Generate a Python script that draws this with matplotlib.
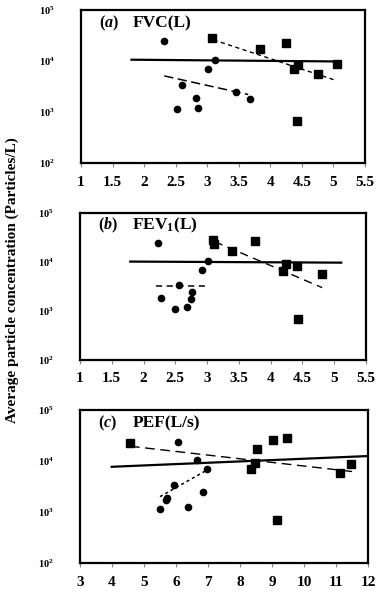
import numpy as np
import matplotlib.pyplot as plt
from matplotlib.ticker import LogLocator, LogFormatterMathtext, NullLocator

plt.rcParams['font.family'] = 'Liberation Serif'
plt.rcParams['font.weight'] = 'bold'
plt.rcParams['mathtext.fontset'] = 'custom'
plt.rcParams['mathtext.rm'] = 'Liberation Serif:bold'
plt.rcParams['mathtext.it'] = 'Liberation Serif:italic:bold'
plt.rcParams['mathtext.bf'] = 'Liberation Serif:bold'

# panel (a) FVC
fvc_circ_x = [2.32, 3.12, 3.01, 2.60, 2.82, 2.52, 2.85, 3.46, 3.68]
fvc_circ_y = [2.5e4, 1.07e4, 6.9e3, 3.4e3, 1.9e3, 1.15e3, 1.2e3, 2.46e3, 1.8e3]
fvc_sq_x = [3.07, 3.83, 4.25, 4.44, 4.38, 4.76, 5.06, 4.42]
fvc_sq_y = [2.8e4, 1.7e4, 2.3e4, 8.3e3, 6.9e3, 5.6e3, 8.9e3, 670]
fvc_all_line = ([1.80, 5.05], [1.06e4, 9.8e3])
fvc_circ_line = ([2.32, 3.65], [5.1e3, 2.2e3])
fvc_sq_line = ([3.10, 5.03], [2.6e4, 4.2e3])

# panel (b) FEV1
fev_circ_x = [2.22, 3.02, 2.92, 2.56, 2.77, 2.28, 2.74, 2.50, 2.69]
fev_circ_y = [2.5e4, 1.07e4, 6.9e3, 3.4e3, 2.4e3, 1.85e3, 1.75e3, 1.12e3, 1.2e3]
fev_sq_x = [3.10, 3.11, 3.39, 3.76, 4.24, 4.20, 4.42, 4.80, 4.43]
fev_sq_y = [2.8e4, 2.3e4, 1.7e4, 2.7e4, 8.9e3, 6.6e3, 8.3e3, 5.7e3, 680]
fev_all_line = ([1.79, 5.11], [1.02e4, 9.7e3])
fev_circ_line = ([2.20, 3.02], [3.3e3, 3.3e3])
fev_sq_line = ([3.12, 4.81], [2.6e4, 3.0e3])

# panel (c) PEF
pef_circ_x = [6.07, 6.67, 6.96, 5.95, 5.73, 5.70, 6.83, 5.50, 6.38]
pef_circ_y = [2.4e4, 1.05e4, 6.9e3, 3.4e3, 1.85e3, 1.75e3, 2.5e3, 1.17e3, 1.23e3]
pef_sq_x = [4.56, 8.54, 8.47, 8.34, 9.02, 9.48, 11.13, 11.46, 9.15]
pef_sq_y = [2.3e4, 1.7e4, 9.3e3, 6.9e3, 2.6e4, 2.8e4, 5.7e3, 8.7e3, 690]
pef_all_line = ([3.99, 12.0], [7.7e3, 1.25e4])
pef_circ_line = ([5.5, 6.96], [2.0e3, 6.6e3])
pef_sq_line = ([4.56, 11.52], [1.95e4, 6.2e3])

panels = [
    dict(rect=[81, 10, 365, 163], xlim=(1, 5.5), xt=np.arange(1, 5.51, 0.5),
         xl=["1", "1.5", "2", "2.5", "3", "3.5", "4", "4.5", "5", "5.5"],
         tag="a", name="FVC(L)", cx=fvc_circ_x, cy=fvc_circ_y, sx=fvc_sq_x, sy=fvc_sq_y,
         al=fvc_all_line, cl=fvc_circ_line, sl=fvc_sq_line,
         cls=(0, (6, 3)), sls=(0, (3, 2.5))),
    dict(rect=[80, 213, 366, 360], xlim=(1, 5.5), xt=np.arange(1, 5.51, 0.5),
         xl=["1", "1.5", "2", "2.5", "3", "3.5", "4", "4.5", "5", "5.5"],
         tag="b", name="FEV$_1$(L)", cx=fev_circ_x, cy=fev_circ_y, sx=fev_sq_x, sy=fev_sq_y,
         al=fev_all_line, cl=fev_circ_line, sl=fev_sq_line,
         cls=(0, (4, 3)), sls=(0, (6, 4))),
    dict(rect=[80, 410, 368, 563], xlim=(3, 12), xt=np.arange(3, 12.1, 1),
         xl=[str(v) for v in range(3, 13)],
         tag="c", name="PEF(L/s)", cx=pef_circ_x, cy=pef_circ_y, sx=pef_sq_x, sy=pef_sq_y,
         al=pef_all_line, cl=pef_circ_line, sl=pef_sq_line,
         cls=(0, (2, 2)), sls=(0, (7, 4))),
]

W, H = 387, 592
fig = plt.figure(figsize=(W / 100, H / 100), dpi=100)

for p in panels:
    l, t, r, b = p["rect"]
    ax = fig.add_axes([l / W, 1 - b / H, (r - l) / W, (b - t) / H])
    ax.set_yscale("log")
    ax.set_ylim(1e2, 1e5)
    ax.set_xlim(*p["xlim"])
    ax.plot(p["al"][0], p["al"][1], color="black", lw=1.6, zorder=2)
    ax.plot(p["cl"][0], p["cl"][1], color="black", lw=1.1, linestyle=p["cls"], zorder=2)
    ax.plot(p["sl"][0], p["sl"][1], color="black", lw=1.0, linestyle=p["sls"], zorder=2)
    ax.plot(p["cx"], p["cy"], "o", color="black", ms=4.5, zorder=3, clip_on=False)
    ax.plot(p["sx"], p["sy"], "s", color="black", ms=5.2, zorder=3, clip_on=False)
    ax.yaxis.set_major_locator(LogLocator(base=10, numticks=5))
    ax.yaxis.set_major_formatter(LogFormatterMathtext())
    ax.yaxis.set_minor_locator(NullLocator())
    ax.set_xticks(p["xt"])
    ax.set_xticklabels(p["xl"])
    ax.tick_params(axis="y", length=0, pad=30, labelsize=7.5)
    ax.tick_params(axis="x", length=3, width=0.8, color="#888888", pad=6, labelsize=11)
    for lbl in ax.get_yticklabels():
        lbl.set_horizontalalignment("left")
    for s in ax.spines.values():
        s.set_linewidth(1.6)
        s.set_color("black")
    ax.text(0.063, 0.915, r"($\mathit{%s}$)" % p["tag"], transform=ax.transAxes,
            fontsize=11.5, fontweight="bold", va="center", ha="left")
    ax.text(0.183, 0.915, p["name"], transform=ax.transAxes,
            fontsize=12.5, fontweight="bold", va="center", ha="left")

fig.text(0.032, 0.527, "Average particle concentration (Particles/L)", rotation=90,
         fontsize=11, fontweight="bold", va="center", ha="center")

plt.savefig("out.png", dpi=100)
